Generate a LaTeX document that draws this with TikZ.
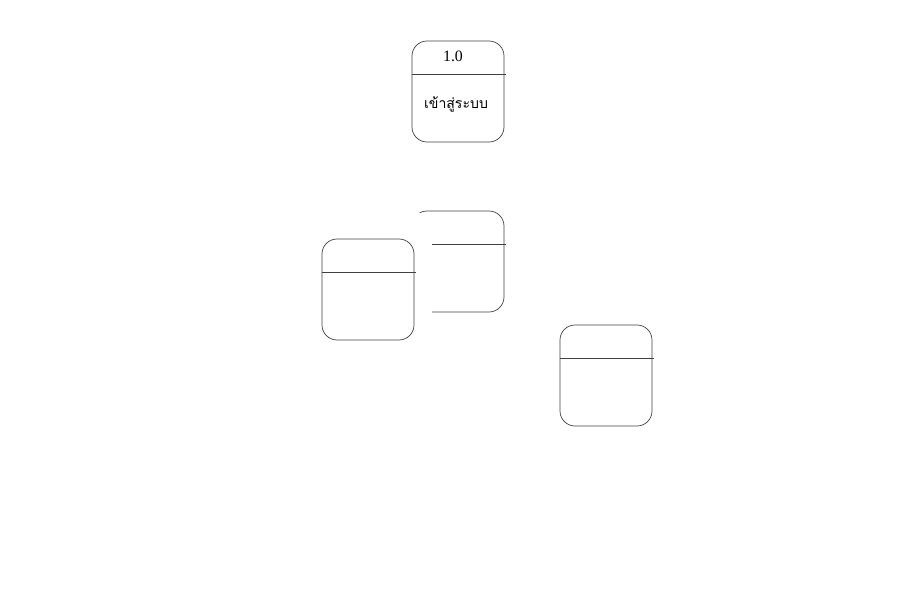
\documentclass[tikz,border=0pt]{standalone}
\usepackage{fontspec}
\setmainfont{Liberation Serif}
\newfontfamily\thaifont[Script=Thai]{Loma}
\usetikzlibrary{positioning}

\tikzset{
  procbox/.style={draw=black!75, thin, rounded corners=0.3cm, minimum width=1.84cm, minimum height=2.02cm, inner sep=0pt},
  divline/.style={draw=black!75, thin}
}

\begin{document}
\begin{tikzpicture}
  \useasboundingbox (0,0) rectangle (18,12);
  % process 1.0
  \node[procbox] (login) at (9.16,10.17) {};
  \draw[divline] ([yshift=-0.67cm]login.north west) -- ([xshift=0.04cm,yshift=-0.67cm]login.north east);
  \node[font=\small] (loginnum) at (9.06,10.88) {1.0};
  \node[font=\thaifont\footnotesize] (loginname) at (9.12,9.92) {เข้าสู่ระบบ};

  % middle process, partly hidden
  \node[procbox] (procmid) at (9.16,6.77) {};
  \draw[divline] ([yshift=-0.67cm]procmid.north west) -- ([xshift=0.04cm,yshift=-0.67cm]procmid.north east);
  \fill[white] (8.18,5.7) rectangle (8.63,7.73);

  % left process
  \node[procbox] (procleft) at (7.36,6.21) {};
  \draw[divline] ([yshift=-0.67cm]procleft.north west) -- ([xshift=0.04cm,yshift=-0.67cm]procleft.north east);

  % right process
  \node[procbox] (procright) at (12.12,4.49) {};
  \draw[divline] ([yshift=-0.67cm]procright.north west) -- ([xshift=0.04cm,yshift=-0.67cm]procright.north east);
\end{tikzpicture}
\end{document}
